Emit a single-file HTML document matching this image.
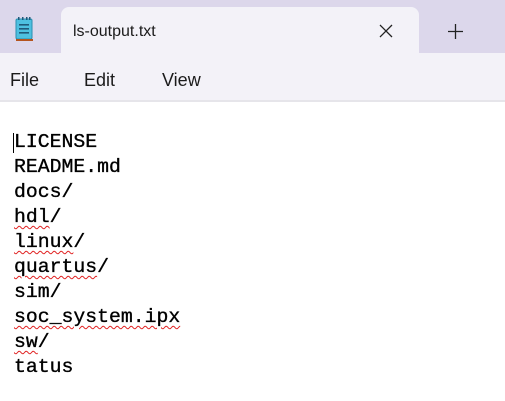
<!DOCTYPE html>
<html><head><style>
*{margin:0;padding:0;box-sizing:border-box}
body{width:505px;height:401px;overflow:hidden;background:#fff;font-family:"Liberation Sans",sans-serif;position:relative}
.top{position:absolute;left:0;top:0;width:505px;height:53px;background:#dcd7eb}
.tab{position:absolute;left:61px;top:7px;width:358px;height:47px;background:#f3f2f8;border-radius:8px 8px 0 0}
.menu{position:absolute;left:0;top:53px;width:505px;height:49px;background:#f3f2f8;border-bottom:2px solid #e6e5ea}
.t{position:absolute;color:#1b1b1b}
.ed{position:absolute;left:14px;top:130px;font-family:"Liberation Mono",monospace;font-size:19.8px;line-height:25px;color:#000;white-space:pre;-webkit-text-stroke:0.35px #000}
.sq{text-decoration:underline wavy #e02020;text-decoration-thickness:1px;text-underline-offset:3px}
.caret{position:absolute;left:13px;top:133px;width:1px;height:20px;background:#000}
</style></head><body>
<div class="top"></div>
<div class="tab"></div>
<svg style="position:absolute;left:14px;top:16px" width="22" height="28">
<rect x="2" y="3" width="16" height="20" rx="1.5" fill="#4ec0e0" stroke="#2a8fb0" stroke-width="1"/>
<rect x="2" y="23" width="17" height="2" fill="#b5541e"/>
<g fill="#1f5a7a"><rect x="5" y="8" width="10" height="1.6"/><rect x="5" y="12" width="10" height="1.6"/><rect x="5" y="16" width="10" height="1.6"/></g>
<g fill="#1f5a7a"><rect x="4" y="1" width="1.5" height="3"/><rect x="8" y="1" width="1.5" height="3"/><rect x="12" y="1" width="1.5" height="3"/><rect x="15" y="1" width="1.5" height="3"/></g>
</svg>
<div class="t" style="left:73px;top:23px;font-size:16px">ls-output.txt</div>
<svg style="position:absolute;left:379px;top:24px" width="14" height="14"><path d="M1 1L13 13M13 1L1 13" stroke="#222" stroke-width="1.3"/></svg>
<svg style="position:absolute;left:447px;top:23px" width="17" height="17"><path d="M8.5 1V16M1 8.5H16" stroke="#222" stroke-width="1.3"/></svg>
<div class="menu"></div>
<div class="t" style="left:10px;top:70px;font-size:18px">File</div>
<div class="t" style="left:84px;top:70px;font-size:18px">Edit</div>
<div class="t" style="left:162px;top:70px;font-size:18px">View</div>
<div class="caret"></div>
<div class="ed">LICENSE
README.md
docs/
<span class="sq">hdl</span>/
<span class="sq">linux</span>/
<span class="sq">quartus</span>/
sim/
<span class="sq">soc_system.ipx</span>
<span class="sq">sw</span>/
tatus</div>
</body></html>
